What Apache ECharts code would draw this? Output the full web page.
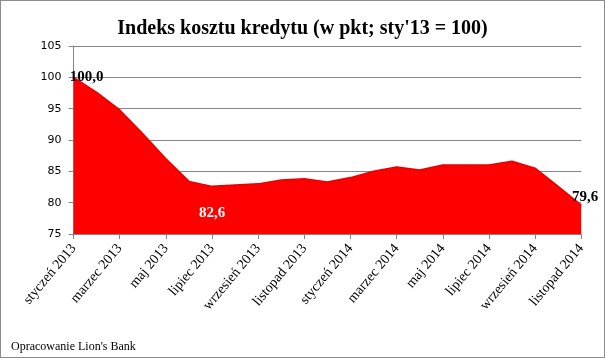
<!DOCTYPE html>
<html>
<head>
<meta charset="utf-8">
<script src="https://cdn.jsdelivr.net/npm/echarts@6/dist/echarts.min.js"></script>
<style>
html,body{margin:0;padding:0;background:#fff;}
#c{width:605px;height:358px;box-sizing:border-box;border:1px solid #8c8c8c;}
</style>
</head>
<body>
<div id="c"></div>
<script>
const title = "Indeks kosztu kredytu (w pkt; sty'13 = 100)";
const footnote = "Opracowanie Lion's Bank";
const months = ["styczeń 2013","luty 2013","marzec 2013","kwiecień 2013","maj 2013","czerwiec 2013","lipiec 2013","sierpień 2013","wrzesień 2013","październik 2013","listopad 2013","grudzień 2013","styczeń 2014","luty 2014","marzec 2014","kwiecień 2014","maj 2014","czerwiec 2014","lipiec 2014","sierpień 2014","wrzesień 2014","październik 2014","listopad 2014"];
const values = [100.0,97.6,94.8,91.0,87.0,83.4,82.6,82.8,83.0,83.6,83.8,83.3,84.0,85.0,85.7,85.2,86.0,86.0,86.0,86.6,85.5,82.6,79.6];
const yTicks = {min:75, max:105, interval:5};

const chart = echarts.init(document.getElementById('c'));
const labelled = {
  0: {position:'top', offset:[13,13], color:'#000'},
  6: {position:'bottom', offset:[0,14], color:'#fff'},
  22:{position:'top', offset:[4,5], color:'#000'}
};
const data = values.map((v,i)=>{
  const d = {value:v};
  if (labelled[i]) d.label = Object.assign({show:true}, labelled[i]);
  return d;
});
chart.setOption({
  animation:false,
  title:{text:title, left:'center', top:13,
    textStyle:{fontFamily:'Liberation Serif', fontWeight:'bold', fontSize:20, color:'#000'}},
  graphic:[{type:'text', left:10, top:340, style:{text:footnote, font:'12px "Liberation Serif"', fill:'#000'}}],
  grid:{left:72.6, right:22.8, top:45, bottom:123},
  xAxis:{type:'category', data:months, boundaryGap:false,
    axisLine:{lineStyle:{color:'#868686'}},
    axisTick:{interval:1, length:5, lineStyle:{color:'#868686'}},
    axisLabel:{interval:1, rotate:50, fontFamily:'Liberation Serif', fontSize:14, color:'#000', margin:12}},
  yAxis:{type:'value', min:yTicks.min, max:yTicks.max, interval:yTicks.interval,
    axisLine:{show:true, lineStyle:{color:'#868686'}},
    axisTick:{show:true, length:5, lineStyle:{color:'#868686'}},
    splitLine:{lineStyle:{color:'#868686'}},
    axisLabel:{fontFamily:'DejaVu Sans', fontSize:11, color:'#000', margin:12}},
  series:[{type:'line', data:data, symbol:'circle', symbolSize:1, showSymbol:true, z:3,
    itemStyle:{color:'#ff0000'},
    label:{show:false, fontFamily:'Liberation Serif', fontWeight:'bold', fontSize:15,
      formatter: p => p.value.toFixed(1).replace('.', ',')},
    lineStyle:{color:'#e80000', width:1.5},
    areaStyle:{color:'#ff0000', opacity:1, origin:'start'}}]
});
</script>
</body>
</html>
